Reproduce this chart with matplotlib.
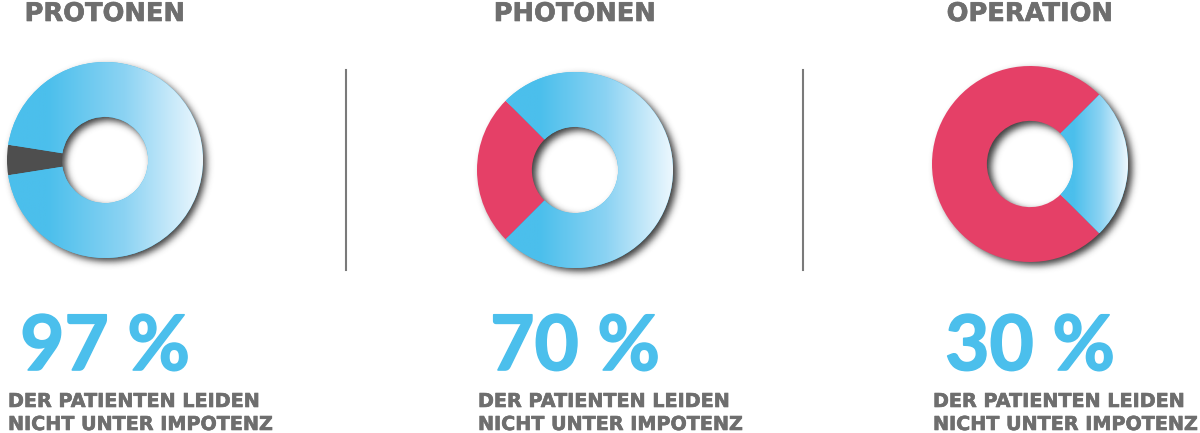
import numpy as np
import matplotlib
matplotlib.use("Agg")
import matplotlib.pyplot as plt
import matplotlib.patheffects as pe
from matplotlib.colors import LinearSegmentedColormap
from matplotlib.lines import Line2D

# --- data -------------------------------------------------------------
titles = ["PROTONEN", "PHOTONEN", "OPERATION"]
percent_labels = ["97 %", "70 %", "30 %"]
subtitle_lines = ["DER PATIENTEN LEIDEN", "NICHT UNTER IMPOTENZ"]
# ring shares as drawn (blue part / other part)
blue_share = [95, 75, 25]
other_share = [5, 25, 75]
other_colors = ["#4e4e4e", "#e54067", "#e54067"]

# --- layout (pixels of a 1200x433 canvas) -----------------------------
W, H = 1200, 433
centers_x = [105, 575, 1030]
centers_y = [160, 170, 164]
R = 98            # outer radius in px
HOLE = 0.44       # inner radius relative to outer
LIM = 1.25

BLUE = "#4bbfec"
GREY = "#6e6e6e"
grad = LinearSegmentedColormap.from_list(
    "ring", [(0, BLUE), (0.2, BLUE), (0.6, "#8cd3f3"), (1, "#eef8fe")])

fig = plt.figure(figsize=(12, 4.33), dpi=100)
fig.patch.set_facecolor("white")

# slightly thicker strokes for the captions
heavy = [pe.withStroke(linewidth=0.45, foreground=GREY)]
heavy_blue = [pe.withStroke(linewidth=1.2, foreground=BLUE)]


def fx(x):
    return x / W


def fy(y):
    return 1 - y / H


def blur(img, sigma):
    k = np.arange(-3 * int(sigma + 1), 3 * int(sigma + 1) + 1)
    k = np.exp(-k ** 2 / (2 * sigma ** 2))
    k /= k.sum()
    img = np.apply_along_axis(lambda r: np.convolve(r, k, mode="same"), 1, img)
    img = np.apply_along_axis(lambda c: np.convolve(c, k, mode="same"), 0, img)
    return img


# shadow of the ring, shifted to the lower right
n = 400
g = np.linspace(-LIM, LIM, n)
gx, gy = np.meshgrid(g, g)
off = 4 / R
rr = np.hypot(gx - off, gy + off)
ring = ((rr <= 1) & (rr >= HOLE)).astype(float)
sh = blur(ring, 3.5 / R / (2 * LIM / n))
shadow = np.zeros((n, n, 4))
shadow[..., :3] = 0.2
shadow[..., 3] = np.clip(sh * 0.95, 0, 1)

S = 2 * LIM * R
for i in range(3):
    cx, cy = centers_x[i], centers_y[i]
    ax = fig.add_axes([fx(cx - S / 2), fy(cy + S / 2), S / W, S / H])
    ax.axis("off")

    ax.imshow(shadow, extent=[-LIM, LIM, -LIM, LIM], origin="lower",
              zorder=0, interpolation="bilinear")

    o = other_share[i]
    wedges, _ = ax.pie([o, blue_share[i]], colors=[other_colors[i], BLUE],
                       startangle=180 - o * 1.8, counterclock=True,
                       radius=1, wedgeprops=dict(width=1 - HOLE, linewidth=0))
    for w in wedges:
        w.set_zorder(2)
    ax.set_xlim(-LIM, LIM)
    ax.set_ylim(-LIM, LIM)
    ax.set_aspect("auto")

    # horizontal gradient across the blue part
    bw = wedges[1]
    bb = bw.get_path().get_extents(bw.get_patch_transform())
    im = ax.imshow(np.linspace(0, 1, 256)[None, :], cmap=grad, aspect="auto",
                   extent=[bb.x0, bb.x1, bb.y0, bb.y1], zorder=3,
                   interpolation="bilinear")
    im.set_clip_path(bw)

    fig.text(fx(cx), fy(21), titles[i], ha="center", va="baseline",
             fontsize=18.5, fontweight="bold", color=GREY,
             family="DejaVu Sans", path_effects=heavy)
    fig.text(fx(cx), fy(370), percent_labels[i], ha="center", va="baseline",
             fontsize=55, fontweight="bold", color=BLUE, family="Lato",
             path_effects=heavy_blue)
    for j, line in enumerate(subtitle_lines):
        fig.text(fx(cx - R + 1), fy(407 + 23 * j), line, ha="left",
                 va="baseline", fontsize=13.8, fontweight="bold", color=GREY,
                 family="DejaVu Sans", path_effects=heavy)

# divider lines
for x in [346, 803]:
    fig.add_artist(Line2D([fx(x), fx(x)], [fy(70), fy(270)],
                          color="#7a7a7a", linewidth=1.5))

fig.savefig("out.png", dpi=100, facecolor="white")
